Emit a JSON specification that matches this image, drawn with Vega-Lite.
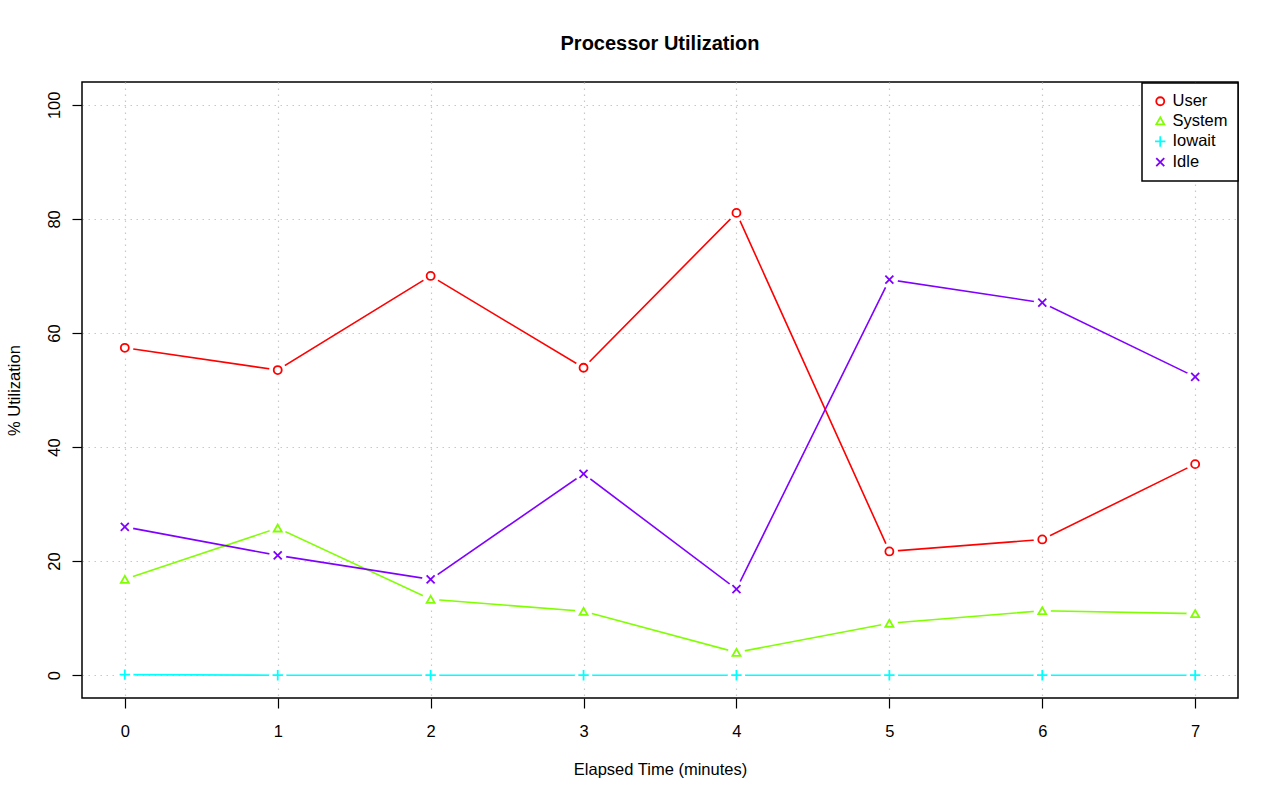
{
  "$schema": "https://vega.github.io/schema/vega-lite/v6.json",
  "width": 1156,
  "height": 616,
  "autosize": {"type": "none"},
  "padding": {"left": 82, "top": 82, "right": 42, "bottom": 103},
  "background": "white",
  "title": {"text": "Processor Utilization", "fontSize": 20, "font": "Liberation Sans", "fontWeight": "bold", "color": "black", "offset": 28, "anchor": "middle"},
  "data": {"values": [
    {"t": 0, "series": "User", "v": 57.4},
    {"t": 1, "series": "User", "v": 53.5},
    {"t": 2, "series": "User", "v": 70.0},
    {"t": 3, "series": "User", "v": 53.9},
    {"t": 4, "series": "User", "v": 81.05},
    {"t": 5, "series": "User", "v": 21.7},
    {"t": 6, "series": "User", "v": 23.8},
    {"t": 7, "series": "User", "v": 37.0},
    {"t": 0, "series": "System", "v": 16.8},
    {"t": 1, "series": "System", "v": 25.8},
    {"t": 2, "series": "System", "v": 13.3},
    {"t": 3, "series": "System", "v": 11.2},
    {"t": 4, "series": "System", "v": 4.0},
    {"t": 5, "series": "System", "v": 9.1},
    {"t": 6, "series": "System", "v": 11.3},
    {"t": 7, "series": "System", "v": 10.8},
    {"t": 0, "series": "Iowait", "v": 0.1},
    {"t": 1, "series": "Iowait", "v": 0.0},
    {"t": 2, "series": "Iowait", "v": 0.0},
    {"t": 3, "series": "Iowait", "v": 0.0},
    {"t": 4, "series": "Iowait", "v": 0.0},
    {"t": 5, "series": "Iowait", "v": 0.0},
    {"t": 6, "series": "Iowait", "v": 0.0},
    {"t": 7, "series": "Iowait", "v": 0.0},
    {"t": 0, "series": "Idle", "v": 26.0},
    {"t": 1, "series": "Idle", "v": 21.0},
    {"t": 2, "series": "Idle", "v": 16.8},
    {"t": 3, "series": "Idle", "v": 35.3},
    {"t": 4, "series": "Idle", "v": 15.1},
    {"t": 5, "series": "Idle", "v": 69.35},
    {"t": 6, "series": "Idle", "v": 65.3},
    {"t": 7, "series": "Idle", "v": 52.3}
  ]},
  "encoding": {
    "x": {"field": "t", "type": "quantitative",
      "scale": {"domain": [-0.28, 7.28], "nice": false, "zero": false},
      "axis": {"title": "Elapsed Time (minutes)", "values": [0, 1, 2, 3, 4, 5, 6, 7], "format": "d", "labelPadding": 15, "titlePadding": 22}},
    "y": {"field": "v", "type": "quantitative",
      "scale": {"domain": [-4, 104], "nice": false, "zero": false},
      "axis": {"title": "% Utilization", "values": [0, 20, 40, 60, 80, 100], "labelAngle": 270, "labelAlign": "center", "labelBaseline": "alphabetic", "labelPadding": 13, "titlePadding": 24}}
  },
  "layer": [
    {
      "mark": {"type": "line", "strokeWidth": 1.6},
      "encoding": {
        "color": {"field": "series", "type": "nominal",
          "scale": {"domain": ["User", "System", "Iowait", "Idle"], "range": ["#FF0000", "#80FF00", "#00FFFF", "#8000FF"]},
          "legend": {"title": null, "orient": "none", "legendX": 1060, "legendY": 1}},
        "detail": {"field": "series"}
      }
    },
    {
      "mark": {"type": "point", "shape": "circle", "filled": true, "color": "white", "size": 300, "opacity": 1, "strokeWidth": 0},
      "encoding": {}
    },
    {
      "mark": {"type": "point", "filled": false, "strokeWidth": 1.8, "size": 64, "opacity": 1},
      "encoding": {
        "color": {"field": "series", "type": "nominal",
          "scale": {"domain": ["User", "System", "Iowait", "Idle"], "range": ["#FF0000", "#80FF00", "#00FFFF", "#8000FF"]},
          "legend": {"title": null, "orient": "none", "legendX": 1060, "legendY": 1}},
        "shape": {"field": "series", "type": "nominal",
          "scale": {"domain": ["User", "System", "Iowait", "Idle"], "range": ["circle", "triangle-up", "M-1.3,0L1.3,0M0,-1.3L0,1.3", "M-1,-1L1,1M-1,1L1,-1"]},
          "legend": {"title": null, "orient": "none", "legendX": 1060, "legendY": 1}}
      }
    }
  ],
  "config": {
    "font": "Liberation Sans",
    "view": {"stroke": "black", "strokeWidth": 1.5},
    "axis": {
      "domain": false,
      "grid": true,
      "gridColor": "#c8c8c8",
      "gridDash": [1.5, 4.5],
      "gridWidth": 1.2,
      "gridOpacity": 1,
      "ticks": true,
      "tickColor": "black",
      "tickSize": 10,
      "tickWidth": 1.2,
      "labelFont": "Liberation Sans",
      "labelFontSize": 16.5,
      "labelColor": "black",
      "titleFont": "Liberation Sans",
      "titleFontSize": 16.5,
      "titleFontWeight": "normal",
      "titleColor": "black",
      "zindex": 1
    },
    "legend": {
      "labelFont": "Liberation Sans",
      "labelFontSize": 16.5,
      "labelColor": "black",
      "fillColor": "white",
      "strokeColor": "black",
      "strokeWidth": 1.5,
      "padding": 10,
      "rowPadding": 2.6,
      "symbolSize": 64,
      "symbolStrokeWidth": 1.8,
      "labelOffset": 4
    }
  }
}
